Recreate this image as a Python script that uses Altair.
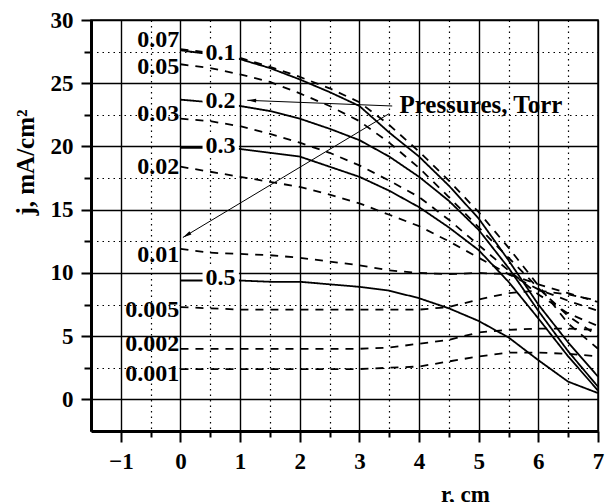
import altair as alt
import pandas as pd

# Radial position, cm
r_cm = [0, 0.5, 1, 1.5, 2, 2.5, 3, 3.5, 4, 4.5, 5, 5.5, 6, 6.5, 7]

# Current density j (mA/cm^2) for each pressure (Torr)
j_by_pressure = {
    "0.5":   [9.4, 9.4, 9.4, 9.3, 9.3, 9.1, 8.9, 8.6, 8.0, 7.2, 6.2, 4.9, 3.1, 1.4, 0.5],
    "0.3":   [19.9, 19.9, 19.8, 19.5, 19.2, 18.4, 17.6, 16.5, 15.2, 13.6, 11.8, 9.3, 6.4, 3.4, 0.7],
    "0.2":   [23.7, 23.5, 23.2, 22.8, 22.2, 21.4, 20.5, 19.2, 17.6, 15.7, 13.4, 10.4, 7.0, 3.8, 1.0],
    "0.1":   [27.6, 27.3, 26.9, 26.2, 25.3, 24.3, 23.2, 21.1, 19.2, 16.9, 14.3, 11.0, 7.5, 4.5, 1.8],
    "0.07":  [27.7, 27.4, 27.0, 26.3, 25.5, 24.6, 23.5, 21.7, 19.6, 17.3, 14.8, 12.0, 9.0, 6.0, 4.0],
    "0.05":  [26.5, 26.2, 25.7, 25.1, 24.2, 23.2, 22.0, 20.3, 18.3, 16.0, 13.6, 11.2, 8.8, 6.6, 5.0],
    "0.03":  [22.2, 22.0, 21.6, 21.0, 20.3, 19.5, 18.5, 17.3, 16.0, 14.2, 12.2, 10.2, 8.3, 6.8, 5.8],
    "0.02":  [18.4, 18.0, 17.6, 17.2, 16.8, 16.2, 15.5, 14.6, 13.7, 12.5, 11.2, 9.9, 8.7, 7.8, 7.0],
    "0.01":  [11.9, 11.6, 11.5, 11.4, 11.2, 10.9, 10.6, 10.2, 10.0, 9.9, 10.0, 9.9, 9.1, 8.4, 7.7],
    "0.005": [7.3, 7.2, 7.1, 7.1, 7.1, 7.1, 7.1, 7.1, 7.1, 7.3, 7.9, 8.4, 8.6, 8.3, 7.8],
    "0.002": [4.0, 4.0, 4.0, 4.0, 4.0, 4.0, 4.0, 4.1, 4.4, 4.7, 5.3, 5.5, 5.6, 5.6, 5.5],
    "0.001": [2.4, 2.4, 2.4, 2.4, 2.4, 2.4, 2.4, 2.5, 2.6, 3.0, 3.4, 3.7, 3.7, 3.6, 3.4],
}
solid_pressures = ["0.5", "0.3", "0.2", "0.1"]

# Pressures labelled at the left edge, and pressures labelled inside the curve
edge_labels = ["0.07", "0.05", "0.03", "0.02", "0.01", "0.005", "0.002", "0.001"]
inline_labels = ["0.1", "0.2", "0.3", "0.5"]

x_ticks = [-1, 0, 1, 2, 3, 4, 5, 6, 7]
x_minor = [-0.5, 0.5, 1.5, 2.5, 3.5, 4.5, 5.5, 6.5]
y_ticks = [0, 5, 10, 15, 20, 25, 30]
y_minor = [2.5, 7.5, 12.5, 17.5, 22.5, 27.5]

FONT = "Liberation Serif"

rows = []
for p, vals in j_by_pressure.items():
    style = "solid" if p in solid_pressures else "dashed"
    for r, j in zip(r_cm, vals):
        rows.append({"r": r, "j": j, "p": p, "style": style})
curves = pd.DataFrame(rows)

# small vertical nudges so the left-hand labels sit where they read best
edge_nudge = {"0.07": 0.7, "0.05": -0.2, "0.03": 0.4, "0.02": 0.0,
              "0.01": -0.5, "0.005": -0.2, "0.002": 0.4, "0.001": -0.4}
edge_df = pd.DataFrame({
    "label": edge_labels,
    "x": [-0.02] * len(edge_labels),
    "y": [j_by_pressure[p][0] + edge_nudge[p] for p in edge_labels],
})
inline_df = pd.DataFrame({
    "label": inline_labels,
    "x": [0.67] * len(inline_labels),
    "y": [j_by_pressure[p][1] + (0.1 if p != "0.5" else 0.2) for p in inline_labels],
})
inline_df["x0"] = 0.37
inline_df["x1"] = 0.98
inline_df["y0"] = inline_df["y"] - 0.9
inline_df["y1"] = inline_df["y"] + 0.9

xscale = alt.Scale(domain=[-1.5, 7], nice=False, zero=False)
yscale = alt.Scale(domain=[-2.5, 30], nice=False, zero=False)

major_x = alt.Axis(
    values=x_ticks, orient="bottom", title="r, cm", grid=True, gridColor="black", gridWidth=1.4,
    domainColor="black", domainWidth=3, tickColor="black", tickWidth=2, tickSize=11,
    labelFont=FONT, labelFontSize=23, labelFontWeight="bold", labelColor="black",
    labelPadding=8, labelFlush=False, format="d",
    titleFont=FONT, titleFontSize=23, titleFontWeight="bold", titleColor="black",
    titleX=374, titleY=63, titleBaseline="middle", titleAnchor="start", titleAlign="center",
)
major_y = alt.Axis(
    values=y_ticks, orient="left", title="j, mA/cm²", grid=True, gridColor="black", gridWidth=1.4,
    domainColor="black", domainWidth=3, tickColor="black", tickWidth=2, tickSize=10,
    labelFont=FONT, labelFontSize=23, labelFontWeight="bold", labelColor="black",
    labelPadding=8, labelFlush=False, format="d",
    titleFont=FONT, titleFontSize=25, titleFontWeight="bold", titleColor="black",
    titleX=-66, titleY=142, titleAngle=270, titleAlign="center", titleBaseline="middle",
    titleAnchor="start",
)
minor_x = alt.Axis(
    values=x_minor, orient="bottom", title=None, labels=False, domain=False,
    grid=True, gridColor="black", gridWidth=1.2, gridDash=[1.5, 4],
    tickColor="black", tickWidth=2, tickSize=6,
)
minor_y = alt.Axis(
    values=y_minor, orient="left", title=None, labels=False, domain=False,
    grid=True, gridColor="black", gridWidth=1.2, gridDash=[1.5, 4],
    tickColor="black", tickWidth=2, tickSize=7,
)


def X(field):
    return alt.X(field, type="quantitative", scale=xscale, axis=None)


def Y(field):
    return alt.Y(field, type="quantitative", scale=yscale, axis=None)


base = alt.Chart(curves)

lines = base.mark_line(color="black", strokeWidth=1.8).encode(
    x=alt.X("r:Q", scale=xscale, axis=major_x),
    y=alt.Y("j:Q", scale=yscale, axis=major_y),
    detail="p:N",
    strokeDash=alt.StrokeDash(
        "style:N",
        scale=alt.Scale(domain=["solid", "dashed"], range=[[1, 0], [8, 7]]),
        legend=None,
    ),
)

minor_grid = base.mark_point(opacity=0).encode(
    x=alt.X("r:Q", scale=xscale, axis=minor_x),
    y=alt.Y("j:Q", scale=yscale, axis=minor_y),
)

label_boxes = alt.Chart(inline_df).mark_rect(color="white").encode(
    x=X("x0"), x2="x1:Q", y=Y("y0"), y2="y1:Q",
)
inline_text = alt.Chart(inline_df).mark_text(
    font=FONT, fontSize=24, fontWeight="bold", color="black", align="center", baseline="middle"
).encode(x=X("x"), y=Y("y"), text="label:N")

edge_text = alt.Chart(edge_df).mark_text(
    font=FONT, fontSize=24, fontWeight="bold", color="black", align="right", baseline="middle"
).encode(x=X("x"), y=Y("y"), text="label:N")

# "Pressures, Torr" call-out with its two pointers
note_df = pd.DataFrame({"label": ["Pressures, Torr"], "x": [3.67], "y": [23.3]})
note = alt.Chart(note_df).mark_text(
    font=FONT, fontSize=25, fontWeight="bold", color="black", align="left", baseline="middle"
).encode(x=X("x"), y=Y("y"), text="label:N")

arrow_df = pd.DataFrame({
    "x": [3.55, 3.5], "y": [23.2, 22.6],
    "x2": [1.12, 0.04], "y2": [23.65, 12.8],
    "angle": [272, 238.5],
})
arrow_lines = alt.Chart(arrow_df).mark_rule(color="black", strokeWidth=1).encode(
    x=X("x"), y=Y("y"), x2="x2:Q", y2="y2:Q",
)
arrow_heads = alt.Chart(arrow_df).mark_point(
    shape="M0,0L0.32,1.5L-0.32,1.5Z", filled=True, color="black", opacity=1, size=140,
).encode(x=X("x2"), y=Y("y2"), angle=alt.Angle("angle:Q", scale=None))

chart = (
    alt.layer(minor_grid, lines, label_boxes, inline_text, edge_text,
              arrow_lines, arrow_heads, note)
    .resolve_axis(x="independent", y="independent")
    .resolve_scale(x="shared", y="shared")
    .properties(
        width=507, height=411,
        autosize=alt.AutoSizeParams(type="none"),
        padding={"left": 91, "top": 20, "right": 9, "bottom": 71},
        background="white",
    )
    .configure_view(stroke="black", strokeWidth=1.5)
)

chart.save("out.html", embed_options={"renderer": "svg", "actions": False})
